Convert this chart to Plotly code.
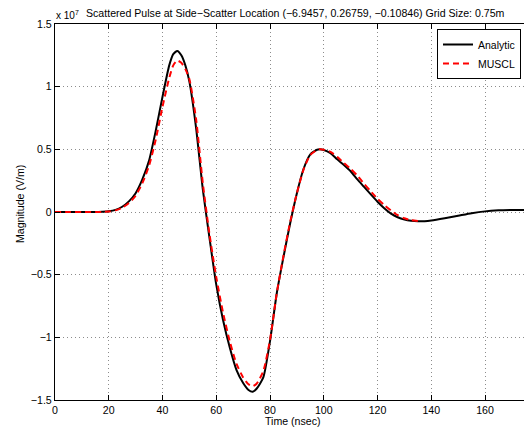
import plotly.graph_objects as go

# ---- data (values in units of 1e7 V/m) ----
t_analytic = [0, 5, 10, 15, 17.5, 20, 22.5, 25, 27.5, 30, 32.5, 35, 37.5, 40, 42.5, 44, 45.5,
              47, 48.5, 50, 52.5, 55, 57.5, 60, 62.5, 65, 67.5, 70, 72, 73.6, 75, 77.5, 80,
              82.5, 85, 87.5, 90, 92.5, 95, 97.5, 98.4, 100, 102.5, 105, 107.5, 110, 112.5,
              115, 117.5, 120, 122.5, 125, 127.5, 130, 132.5, 135, 137.5, 140, 145, 150, 155,
              160, 165, 170, 175]
y_analytic = [0, 0, 0, 0, 0.002, 0.006, 0.017, 0.042, 0.085, 0.15, 0.26, 0.41, 0.65, 0.92, 1.17,
              1.26, 1.285, 1.25, 1.17, 1.04, 0.67, 0.18, -0.21, -0.58, -0.86, -1.08, -1.26,
              -1.365, -1.42, -1.434, -1.41, -1.32, -1.03, -0.65, -0.36, -0.09, 0.15, 0.345,
              0.46, 0.497, 0.5, 0.495, 0.47, 0.42, 0.375, 0.325, 0.26, 0.20, 0.14, 0.082, 0.03,
              -0.013, -0.042, -0.06, -0.07, -0.074, -0.073, -0.068, -0.05, -0.03, -0.01, 0.005,
              0.013, 0.016, 0.017]

t_muscl = [0, 5, 10, 15, 17.5, 20, 22.5, 25, 27.5, 30, 32.5, 35, 37.5, 40, 42.5, 44, 45.5,
           47, 48.5, 50, 52.5, 55, 57.5, 60, 62.5, 65, 67.5, 70, 72, 73.5, 75, 77.5, 80,
           82.5, 85, 87.5, 90, 92.5, 95, 97.5, 98.4, 100, 102.5, 105, 107.5, 110, 112.5,
           115, 117.5, 120, 122.5, 125, 127.5, 130, 132.5, 135]
y_muscl = [0, 0, 0, 0, 0.001, 0.004, 0.013, 0.034, 0.072, 0.13, 0.23, 0.37, 0.58, 0.84, 1.07,
           1.17, 1.208, 1.19, 1.14, 1.06, 0.74, 0.23, -0.18, -0.52, -0.80, -1.03, -1.21,
           -1.32, -1.375, -1.39, -1.37, -1.27, -1.02, -0.65, -0.35, -0.08, 0.15, 0.34,
           0.455, 0.495, 0.5, 0.497, 0.48, 0.44, 0.39, 0.345, 0.29, 0.225, 0.165, 0.105,
           0.055, 0.012, -0.025, -0.05, -0.065, -0.072]

x_ticks = [0, 20, 40, 60, 80, 100, 120, 140, 160]
y_ticks = [-1.5, -1, -0.5, 0, 0.5, 1, 1.5]
y_tick_labels = ["\u22121.5", "\u22121", "\u22120.5", "0", "0.5", "1", "1.5"]

title_text = ("Scattered Pulse at Side\u2212Scatter Location (\u22126.9457, 0.26759, "
              "\u22120.10846) Grid Size: 0.75m")

FONT = "Liberation Sans, Arial, Helvetica, sans-serif"
FS = 10.6

W, H = 524, 432
L, R, T, B = 55, 0, 24, 32
pw, ph = W - L - R, H - T - B


def px_x(x):
    return (x - L) / pw


def px_y(y):
    return 1 - (y - T) / ph


fig = go.Figure()
fig.add_trace(go.Scatter(x=t_analytic, y=y_analytic, mode="lines", name="Analytic",
                         line=dict(color="black", width=2, shape="spline", smoothing=0.6)))
fig.add_trace(go.Scatter(x=t_muscl, y=y_muscl, mode="lines", name="MUSCL",
                         line=dict(color="#ff0000", width=2, dash="6px,4px",
                                   shape="spline", smoothing=0.6)))

axis_common = dict(
    showgrid=True, gridcolor="#8c8c8c", griddash="1px,3px", gridwidth=1,
    zeroline=False, showline=True, linecolor="black", linewidth=1.3,
    ticks="inside", ticklen=5, tickcolor="black", tickwidth=1,
    tickfont=dict(family=FONT, size=FS, color="black"),
)

fig.update_xaxes(range=[0, 174.5], tickvals=x_ticks, mirror="ticks", **axis_common)
fig.update_yaxes(range=[-1.5, 1.5], tickvals=y_ticks, ticktext=y_tick_labels,
                 mirror=False, **axis_common)

txt_font = dict(family=FONT, size=FS, color="black")
fig.update_layout(
    width=W, height=H, autosize=False,
    margin=dict(l=L, r=R, t=T, b=B, pad=0),
    paper_bgcolor="white", plot_bgcolor="white",
    font=txt_font,
    showlegend=True,
    legend=dict(x=px_x(521), y=px_y(29), xanchor="right", yanchor="top",
                bgcolor="white", bordercolor="black", borderwidth=1,
                font=dict(family=FONT, size=10.5, color="black"),
                itemwidth=30, tracegroupgap=0),
    annotations=[
        dict(text=title_text, x=px_x(295), y=px_y(13), xref="paper", yref="paper",
             showarrow=False, font=txt_font, xanchor="center", yanchor="middle"),
        dict(text="x 10<sup>7</sup>", x=px_x(54), y=px_y(15), xref="paper", yref="paper",
             showarrow=False, font=dict(family=FONT, size=10, color="black"),
             xanchor="left", yanchor="middle"),
        dict(text="Magnitude (V/m)", x=px_x(20), y=px_y(204), xref="paper", yref="paper",
             showarrow=False, textangle=-90, font=txt_font,
             xanchor="center", yanchor="middle"),
        dict(text="Time (nsec)", x=px_x(293), y=px_y(421), xref="paper", yref="paper",
             showarrow=False, font=txt_font, xanchor="center", yanchor="middle"),
    ],
)

fig.write_html("out.html", config={"displayModeBar": False},
               post_script="document.body.style.margin='0';document.body.style.padding='0';")
